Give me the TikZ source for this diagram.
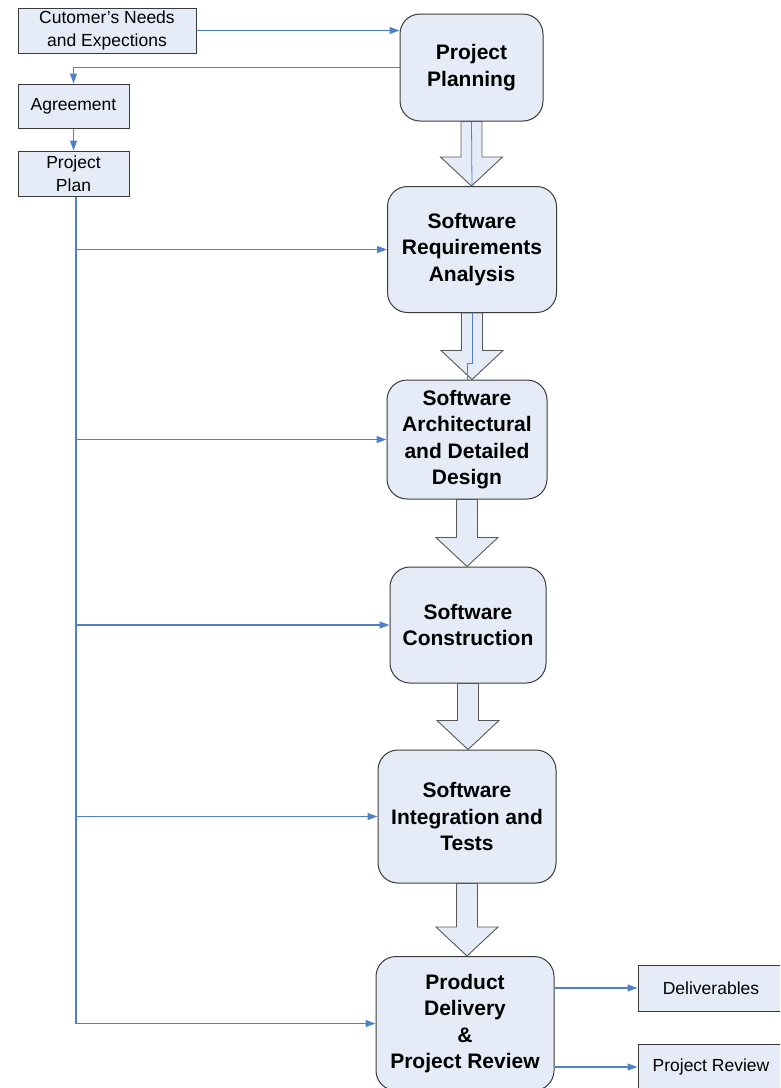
\documentclass[tikz,border=0pt]{standalone}
\usepackage{fontspec}
\setmainfont{Liberation Sans}
\usetikzlibrary{arrows.meta}
\usetikzlibrary{calc}

\definecolor{boxfill}{HTML}{E6ECF7}
\definecolor{linkblue}{HTML}{4F81C9}
\definecolor{boxline}{HTML}{3A3A3A}

\tikzset{
  stage/.style={draw=boxline, fill=boxfill, rounded corners=20pt, line width=1pt,
    align=center, inner sep=0pt, font=\fontsize{21}{26.5}\selectfont\bfseries},
  doc/.style={draw=boxline, fill=boxfill, line width=1pt,
    align=center, inner sep=0pt, font=\fontsize{17.5}{23}\selectfont},
  link/.style={draw=linkblue, line width=1.1pt, -{Triangle[length=10pt,width=7pt]}},
  bigarr/.style={draw=boxline!85, fill=boxfill, line width=0.9pt, line join=miter}
}

% hollow block arrow from one stage down to the next
\newcommand{\bigarrow}[2]{%
  \draw[bigarr] let \p1=(#1.south), \p2=(#2.north) in
    (\x1-10.5pt,\y1) -- (\x1-10.5pt,\y2+29pt) -- (\x1-31pt,\y2+29pt) -- (\x1,\y2)
    -- (\x1+31pt,\y2+29pt) -- (\x1+10.5pt,\y2+29pt) -- (\x1+10.5pt,\y1) -- cycle;}

\begin{document}
\begin{tikzpicture}[x=1pt, y=-1pt]
        \useasboundingbox (0,0) rectangle (780,1088);
        \clip (0,0) rectangle (780,1088);

        % documents on the left
        \node[doc, minimum width=178pt, minimum height=45pt] (needs) at (107,30.5) {Cutomer’s Needs\\and Expections};
        \node[doc, minimum width=111pt, minimum height=44pt] (agree) at (73.5,106) {Agreement};
        \node[doc, minimum width=111pt, minimum height=45pt] (pplan) at (73.5,173.5) {Project\\Plan};

        % stages
        \node[stage, minimum width=143pt, minimum height=107pt] (plan) at (471.5,67.5) {Project\\Planning};
        \node[stage, minimum width=169pt, minimum height=126pt] (req) at (472,249.5) {Software\\Requirements\\Analysis};
        \node[stage, minimum width=160pt, minimum height=119pt] (arch) at (467,439.5) {Software\\Architectural\\and Detailed\\Design};
        \node[stage, minimum width=156pt, minimum height=116pt] (constr) at (468,625) {Software\\Construction};
        \node[stage, minimum width=178pt, minimum height=133pt] (integ) at (467,816.5) {Software\\Integration and\\Tests};
        \node[stage, minimum width=178pt, minimum height=134pt] (prod) at (465,1023.5) {Product\\Delivery\\\&\\Project Review};

        % outputs on the right
        \node[doc, minimum width=146pt, minimum height=46pt] (deliv) at (711,988) {Deliverables};
        \node[doc, minimum width=146pt, minimum height=46pt] (review) at (711,1067) {Project Review};

        % block arrows between stages
        \bigarrow{plan}{req}
        \bigarrow{req}{arch}
        \bigarrow{arch}{constr}
        \bigarrow{constr}{integ}
        \bigarrow{integ}{prod}
        \draw[draw=linkblue, line width=0.8pt] (plan.south) -- (req.north);
        \draw[draw=linkblue, line width=0.8pt] (req.south) -- ++(0,50) -| (arch.north);

        % plain connectors
        \draw[link] (needs.east) -- (needs.east -| plan.west);
        \draw[link] (plan.west) -| (agree.north);
        \draw[link] (agree.south) -- (pplan.north);

        \coordinate (trunk) at ([xshift=2.5pt]pplan.south);
        \draw[link] (trunk) |- (prod.west);
        \foreach \s in {req, arch, constr, integ}
        \draw[link] (trunk |- \s.west) -- (\s.west);

        \draw[link] (deliv.west -| prod.east) -- (deliv.west);
        \draw[link] (review.west -| prod.east) -- (review.west);
      \end{tikzpicture}
\end{document}
